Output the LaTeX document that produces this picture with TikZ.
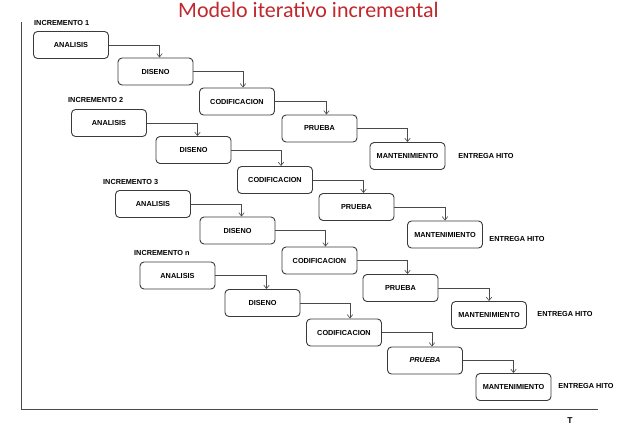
\documentclass[tikz,border=0pt]{standalone}
\usepackage{fontspec}
\setmainfont{Liberation Sans}
\newfontfamily\titlefont{Carlito}
\usetikzlibrary{arrows.meta}
\definecolor{titlered}{HTML}{C0282D}
\definecolor{boxgray}{HTML}{3A3A3A}
\definecolor{linegray}{HTML}{4A4A4A}
\tikzset{
  phase/.style={draw=boxgray, line width=0.9pt, rounded corners=4pt, minimum width=75pt, minimum height=27pt, inner sep=0pt, font=\fontsize{7.3}{8}\selectfont\bfseries},
  lbl/.style={inner sep=0pt, font=\fontsize{7.3}{8}\selectfont\bfseries},
  flow/.style={draw=linegray, line width=0.6pt, -{Straight Barb[length=3.5pt,width=5.5pt]}},
  axis/.style={draw=linegray, line width=0.8pt}
}
\begin{document}
\begin{tikzpicture}[x=1pt,y=-1pt]
\useasboundingbox (0,0) rectangle (640,429);
\node[text=titlered, font=\fontsize{22}{26}\selectfont\titlefont, anchor=base, inner sep=0pt] (title) at (308.5,17.5) {Modelo iterativo incremental};

% axes
\coordinate (otop) at (21,22);
\coordinate (orig) at (21,409);
\coordinate (oend) at (598,409);
\draw[axis] (otop) -- (orig) -- (oend);
\node[lbl, font=\fontsize{8.5}{9}\selectfont\bfseries] (T) at (570,421) {T};

% increment 1
\node[lbl, anchor=west] (I1) at (34,23) {INCREMENTO 1};
\node[phase] (A1) at (71,45) {ANALISIS};
\node[phase] (D1) at (155.5,71.5) {DISENO};
\node[phase] (C1) at (237,101.5) {CODIFICACION};
\node[phase] (P1) at (319.5,128.5) {PRUEBA};
\node[phase] (M1) at (407.5,156) {MANTENIMIENTO};
\node[lbl] (E1) at (486,156) {ENTREGA HITO};

% increment 2
\node[lbl, anchor=west] (I2) at (68,100) {INCREMENTO 2};
\node[phase] (A2) at (109,123) {ANALISIS};
\node[phase] (D2) at (193.5,150) {DISENO};
\node[phase] (C2) at (275,180) {CODIFICACION};
\node[phase] (P2) at (356.5,207) {PRUEBA};
\node[phase] (M2) at (445,234.5) {MANTENIMIENTO};
\node[lbl] (E2) at (517,239) {ENTREGA HITO};

% increment 3
\node[lbl, anchor=west] (I3) at (103,182) {INCREMENTO 3};
\node[phase] (A3) at (153,204) {ANALISIS};
\node[phase] (D3) at (237.5,230.5) {DISENO};
\node[phase] (C3) at (319.5,260.5) {CODIFICACION};
\node[phase] (P3) at (400.5,288) {PRUEBA};
\node[phase] (M3) at (489,315) {MANTENIMIENTO};
\node[lbl] (E3) at (565,314) {ENTREGA HITO};

% increment n
\node[lbl, anchor=west] (In) at (134,253) {INCREMENTO n};
\node[phase] (An) at (177.5,275.5) {ANALISIS};
\node[phase] (Dn) at (262.5,303) {DISENO};
\node[phase] (Cn) at (344,332.5) {CODIFICACION};
\node[phase, font=\fontsize{7.3}{8}\selectfont\bfseries\itshape] (Pn) at (425,360.5) {PRUEBA};
\node[phase] (Mn) at (513.5,387) {MANTENIMIENTO};
\node[lbl] (En) at (586,386) {ENTREGA HITO};

% connectors
\foreach \k in {1,2,3,n}{
  \draw[flow] (A\k.east) -| ([xshift=4pt]D\k.north);
  \draw[flow] (D\k.east) -| ([xshift=6pt]C\k.north);
  \draw[flow] (C\k.east) -| ([xshift=7pt]P\k.north);
  \draw[flow] (P\k.east) -| (M\k.north);
}
\end{tikzpicture}
\end{document}
